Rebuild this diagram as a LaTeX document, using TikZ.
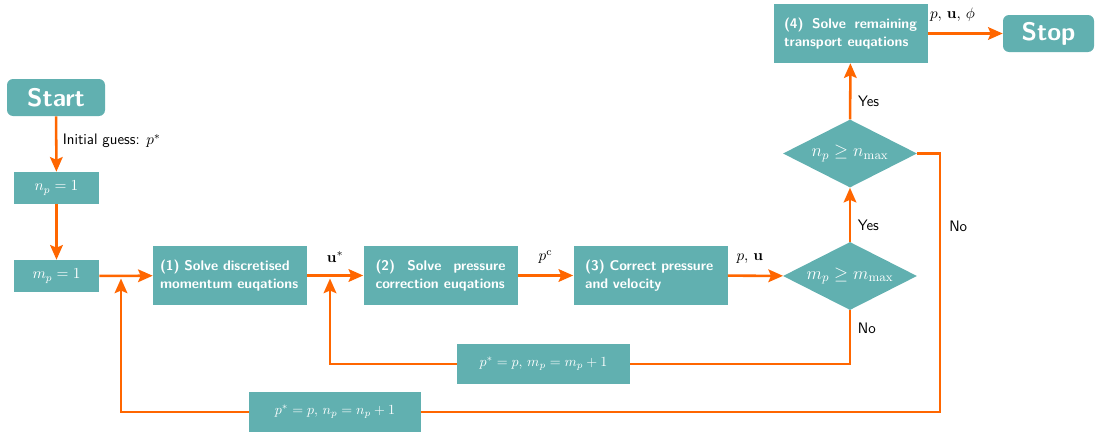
\RequirePackage{fix-cm}
\documentclass[tikz,border=0pt]{standalone}
\usepackage{amsmath,amssymb}
\usetikzlibrary{shapes.geometric,arrows.meta,calc}
\renewcommand{\familydefault}{\sfdefault}
\definecolor{boxteal}{RGB}{97,176,176}
\definecolor{flow}{RGB}{255,102,0}
\newcommand{\stepfont}{\fontsize{10.5}{13.5}\selectfont\bfseries
  \hyphenpenalty=10000\exhyphenpenalty=10000}
\newcommand{\labelfont}{\fontsize{11.4}{13.5}\selectfont}
\tikzset{
  procbox/.style={fill=boxteal, text=white, font=\stepfont,
    minimum width=115.5pt, minimum height=44.25pt, inner sep=0pt},
  mathbox/.style={fill=boxteal, text=white, inner sep=0pt},
  termbox/.style={fill=boxteal, text=white, rounded corners=4.5pt,
    font=\fontsize{19}{22}\selectfont\bfseries, inner sep=0pt,
    minimum width=#1, minimum height=27.75pt},
  decide/.style={diamond, fill=boxteal, text=white, aspect=2, inner sep=0pt,
    font=\fontsize{13.5}{16}\selectfont,
    minimum width=100.5pt, minimum height=51pt},
  arr/.style={draw=flow, line width=1.9pt,
    -{Stealth[length=11pt,width=9.5pt,inset=2pt]}},
  ln/.style={draw=flow, line width=1.9pt},
  lbl/.style={text=black, inner sep=0pt, font=\labelfont}
}
\begin{document}
\begin{tikzpicture}[x=0.75pt,y=-0.75pt]
\useasboundingbox (0,0) rectangle (1101,432);

% terminals
\node[termbox=73.5pt] (start) at (56,97.5) {Start};
\node[termbox=68.25pt] (stop) at (1048.5,33.5) {Stop};

% counters
\node[mathbox, minimum width=63.75pt, minimum height=24pt, font=\fontsize{11.5}{13}\selectfont] (np) at (56.5,188) {$n_p=1$};
\node[mathbox, minimum width=63.75pt, minimum height=24pt, font=\fontsize{11.5}{13}\selectfont] (mp) at (56.5,276) {$m_p=1$};

% solution steps
\node[procbox, text width=105pt, align=left] (s1) at (230,275.5)
  {(1) Solve discretised momentum euqations};
\node[procbox, text width=97.5pt, align=justify] (s2) at (440.5,275.5)
  {(2) Solve pressure\linebreak correction euqations};
\node[procbox, text width=98pt, align=left] (s3) at (650.5,275.5)
  {(3) Correct pressure and velocity};
\node[procbox, text width=99.75pt, align=justify] (s4) at (850.5,33.5)
  {(4) Solve remaining\linebreak transport euqations};

% convergence checks
\node[decide] (dm) at (850,276) {$m_p \geq m_{\max}$};
\node[decide] (dn) at (850,153.5) {$n_p \geq n_{\max}$};

% update boxes
\node[mathbox, minimum width=129.75pt, minimum height=30pt, font=\fontsize{10.5}{12}\selectfont] (um) at (543.5,364) {$p^{*}=p,\, m_p=m_p+1$};
\node[mathbox, minimum width=129pt, minimum height=30pt, font=\fontsize{10.5}{12}\selectfont] (un) at (335,412) {$p^{*}=p,\, n_p=n_p+1$};

% junctions on the main line
\coordinate (j1) at (121,278.5);
\coordinate (j2) at (330,278.5);
\coordinate (nr) at (940,153.5);

% main flow
\draw[arr] (start) -- (np) node[lbl, pos=0.45, right=4pt] {Initial guess: $p^{*}$};
\draw[arr] (np) -- (mp);
\draw[arr] (mp) -- (s1);
\draw[arr] (s1) -- (s2) node[lbl, midway, above=9pt] {$\mathbf{u}^{*}$};
\draw[arr] (s2) -- (s3) node[lbl, midway, above=8pt] {$p^{\mathrm{c}}$};
\draw[arr] (s3) -- (dm) node[lbl, pos=0.4, above=8pt] {$p,\, \mathbf{u}$};
\draw[arr] (dm) -- (dn) node[lbl, pos=0.3, right=5pt] {Yes};
\draw[arr] (dn) -- (s4) node[lbl, pos=0.33, right=5pt] {Yes};
\draw[arr] (s4) -- (stop) node[lbl, pos=0.33, above=8pt] {$p,\, \mathbf{u},\, \phi$};

% inner loop
\draw[ln] (dm.south) |- (um.east) node[lbl, pos=0.17, right=5pt] {No};
\draw[arr] (um.west) -| (j2);

% outer loop
\draw[ln] (dn.east) -- (nr) |- (un.east) node[lbl, pos=0.14, right=6pt] {No};
\draw[arr] (un.west) -| (j1);
\end{tikzpicture}
\end{document}
